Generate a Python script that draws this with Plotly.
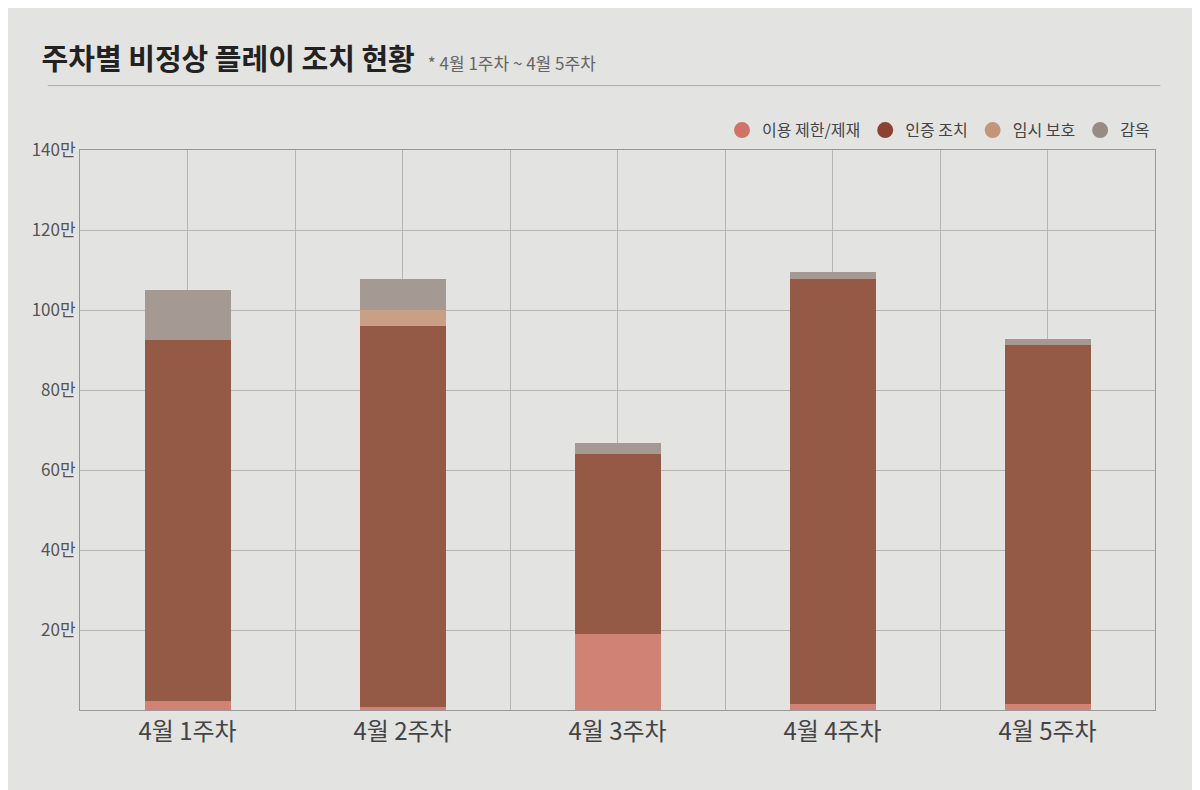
import plotly.graph_objects as go

weeks = ["4월 1주차", "4월 2주차", "4월 3주차", "4월 4주차", "4월 5주차"]
restrict = [2.25, 0.75, 19, 1.5, 1.5]
verify = [90.25, 95.25, 45, 106.25, 89.75]
temp = [0, 4, 0, 0, 0]
jail = [12.5, 7.75, 2.75, 1.75, 1.5]
series_names = ["이용 제한/제재", "인증 조치", "임시 보호", "감옥"]
bar_colors = ["#d08275", "#955a45", "#c9a084", "#a59a93"]
legend_colors = ["#cf7467", "#8a4330", "#c3957a", "#978c85"]
yticks = [20, 40, 60, 80, 100, 120, 140]

x = list(range(len(weeks)))
fig = go.Figure()
for name, vals, c in zip(series_names, [restrict, verify, temp, jail], bar_colors):
    fig.add_bar(x=x, y=vals, name=name, marker_color=c, marker_line_width=0,
                width=0.4, showlegend=False, hoverinfo="skip")
for name, c in zip(series_names, legend_colors):
    fig.add_scatter(x=[None], y=[None], mode="markers", name=name,
                    marker=dict(color=c, size=17, symbol="circle"))

half = [i * 0.5 - 0.5 for i in range(11)]
fig.update_layout(
    barmode="stack", width=1200, height=790,
    paper_bgcolor="#e3e3e1", plot_bgcolor="#e3e3e1",
    font=dict(family="Noto Sans CJK KR", color="#555"),
    margin=dict(l=72, r=53, t=142, b=88),
    title=dict(text="<b>주차별 비정상 플레이 조치 현황</b>  <span style='font-size:17px;color:#666'>* 4월 1주차 ~ 4월 5주차</span>",
               x=0.028, xanchor="left", y=0.935, yanchor="middle",
               font=dict(size=29, color="#222")),
    legend=dict(orientation="h", x=1, xanchor="right", y=1.005, yanchor="bottom",
                font=dict(size=16, color="#444"), bgcolor="rgba(0,0,0,0)",
                itemwidth=30, traceorder="normal"),
    shapes=[dict(type="line", xref="paper", yref="paper", x0=-0.03, x1=1.005,
                 y0=1.115, y1=1.115, line=dict(color="#aaa", width=1))],
)
fig.update_xaxes(range=[-0.5, 4.5], tickvals=half,
                 ticktext=["" if i % 2 == 0 else weeks[i // 2] for i in range(11)],
                 showgrid=True, gridcolor="#b5b5b5", gridwidth=1, ticks="",
                 tickfont=dict(size=24, color="#444"), showline=True,
                 linecolor="#999", mirror=True, zeroline=False)
fig.update_yaxes(range=[0, 140], tickvals=yticks,
                 ticktext=[f"{v}만" for v in yticks], showgrid=True,
                 gridcolor="#b5b5b5", ticks="", tickfont=dict(size=17, color="#555"),
                 showline=True, linecolor="#999", mirror=True, zeroline=False)
fig.write_html("out.html")
